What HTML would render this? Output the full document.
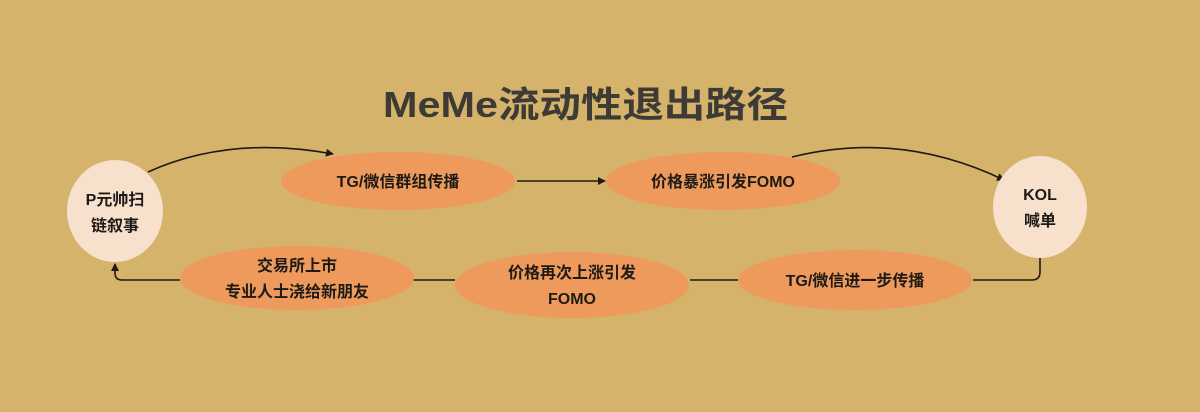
<!DOCTYPE html>
<html><head><meta charset="utf-8"><style>
html,body{margin:0;padding:0;background:#d5b36a;}
svg{display:block}
text{font-family:"Liberation Sans","Noto Sans CJK SC",sans-serif;font-weight:bold;fill:#1e1a16;}
</style></head><body>
<svg width="1200" height="412" viewBox="0 0 1200 412" xmlns="http://www.w3.org/2000/svg">
<defs><marker id="a" markerWidth="8" markerHeight="8" refX="7" refY="4" orient="auto" markerUnits="userSpaceOnUse"><path d="M0,0 L8,4 L0,8 z" fill="#1e1a16"/></marker></defs>
<rect width="1200" height="412" fill="#d5b36a"/>
<text x="383" y="117" font-size="36" textLength="405" lengthAdjust="spacingAndGlyphs" style="fill:#3e3a35">MeMe流动性退出路径</text>
<g stroke="#1e1a16" stroke-width="1.6" fill="none">
<path d="M148,172 Q230,135 333,154" marker-end="url(#a)"/>
<path d="M517,181 L605,181" marker-end="url(#a)"/>
<path d="M792,157 Q900,130 1004,180" marker-end="url(#a)"/>
<path d="M1040,258 L1040,272 Q1040,280 1032,280 L973,280"/>
<path d="M738,280 L690,280"/>
<path d="M455,280 L413,280"/>
<path d="M180,280 L122,280 Q115,280 115,273 L115,264" marker-end="url(#a)"/>
</g>
<ellipse cx="115" cy="211" rx="48" ry="51" fill="#f7e0cc"/>
<ellipse cx="1040" cy="207" rx="47" ry="51" fill="#f7e0cc"/>
<g fill="#ee9a5c">
<ellipse cx="398" cy="181" rx="117" ry="29"/>
<ellipse cx="723" cy="181" rx="117" ry="29"/>
<ellipse cx="297" cy="278" rx="117" ry="32"/>
<ellipse cx="572" cy="285" rx="117" ry="33"/>
<ellipse cx="855" cy="280" rx="117" ry="30"/>
</g>
<g font-size="16" text-anchor="middle">
<text x="115" y="205">P元帅扫</text>
<text x="115" y="231">链叙事</text>
<text x="1040" y="200">KOL</text>
<text x="1040" y="226">喊单</text>
<text x="398" y="187">TG/微信群组传播</text>
<text x="723" y="187">价格暴涨引发FOMO</text>
<text x="297" y="271">交易所上市</text>
<text x="297" y="297">专业人士浇给新朋友</text>
<text x="572" y="278">价格再次上涨引发</text>
<text x="572" y="304">FOMO</text>
<text x="855" y="286">TG/微信进一步传播</text>
</g>
</svg>
</body></html>
